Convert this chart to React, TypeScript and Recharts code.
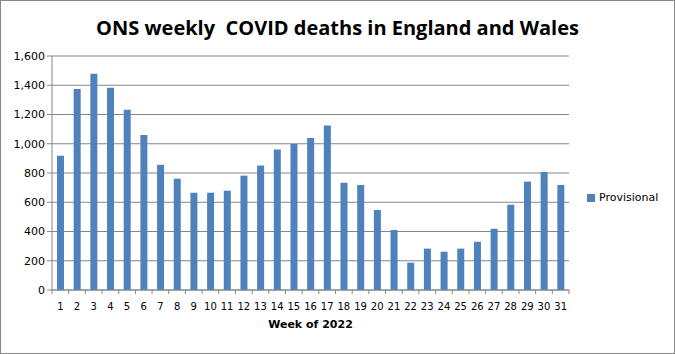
import { BarChart, Bar, XAxis, YAxis, CartesianGrid, Legend } from 'recharts';

// Week numbers of 2022
const weeks = [
  '1', '2', '3', '4', '5', '6', '7', '8', '9', '10', '11', '12', '13', '14', '15', '16',
  '17', '18', '19', '20', '21', '22', '23', '24', '25', '26', '27', '28', '29', '30', '31',
];

// Provisional weekly COVID deaths
const provisional = [
  918, 1375, 1479, 1383, 1233, 1060, 856, 761, 665, 665, 679, 782, 851, 960, 998, 1040,
  1124, 733, 718, 547, 410, 187, 283, 262, 283, 330, 419, 583, 741, 807, 718,
];

const yTicks = [0, 200, 400, 600, 800, 1000, 1200, 1400, 1600];

const chartData = weeks.map((week, i) => ({ week, Provisional: provisional[i] }));

const GRID = '#868686';
const FONT = '"DejaVu Sans", Tahoma, sans-serif';
const STEP = 517 / weeks.length;
const LEGEND_W = 90;

const WeekTick = (props: any) => {
  const { x, y, payload, index } = props;
  const last = index === weeks.length - 1;
  return (
    <g>
      <line x1={x - STEP / 2} x2={x - STEP / 2} y1={y - 8} y2={y - 4} stroke={GRID} />
      {last && <line x1={x + STEP / 2} x2={x + STEP / 2} y1={y - 8} y2={y - 4} stroke={GRID} />}
      <text x={x} y={y + 12} textAnchor="middle" fontSize={10} fontFamily={FONT} fill="#000">
        {payload.value}
      </text>
    </g>
  );
};

export default function App() {
  return (
    <div style={{ position: 'absolute', left: 0, top: 0, width: 675, height: 354, background: '#fff' }}>
      <div style={{ position: 'absolute', left: 0, top: 0, width: 673, height: 352, border: '1px solid #888' }} />
      <div
        style={{
          position: 'absolute', left: 0, top: 14, width: 675, textAlign: 'center', whiteSpace: 'pre',
          fontFamily: '"Open Sans", sans-serif', fontWeight: 700, fontSize: 20, color: '#000',
        }}
      >
        ONS weekly  COVID deaths in England and Wales
      </div>
      <div
        style={{
          position: 'absolute', left: 52, top: 318, width: 517, textAlign: 'center',
          fontFamily: FONT, fontWeight: 700, fontSize: 11, color: '#000',
        }}
      >
        Week of 2022
      </div>
      <BarChart
        width={675}
        height={354}
        data={chartData}
        margin={{ top: 56, right: 106 - LEGEND_W, bottom: 44, left: 8 }}
        barCategoryGap="30%"
      >
        <CartesianGrid vertical={false} stroke={GRID} strokeDasharray="" />
        <XAxis
          dataKey="week"
          interval={0}
          height={20}
          axisLine={{ stroke: GRID }}
          tickLine={false}
          tick={<WeekTick />}
        />
        <YAxis
          width={44}
          domain={[0, 1600]}
          ticks={yTicks}
          interval={0}
          tickFormatter={(v: number) => v.toLocaleString('en-US')}
          axisLine={{ stroke: GRID }}
          tickLine={{ stroke: GRID }}
          tickSize={5}
          tick={{ fontSize: 11, fontFamily: FONT, fill: '#000' }}
        />
        <Legend
          layout="vertical"
          align="right"
          verticalAlign="middle"
          iconType="square"
          iconSize={8}
          width={LEGEND_W}
          wrapperStyle={{ left: 587, top: 191, fontFamily: FONT, fontSize: 11, whiteSpace: 'nowrap' }}
          formatter={(value: string) => <span style={{ color: '#000', whiteSpace: 'nowrap' }}>{value}</span>}
        />
        <Bar dataKey="Provisional" fill="#4F81BD" isAnimationActive={false} />
      </BarChart>
    </div>
  );
}
